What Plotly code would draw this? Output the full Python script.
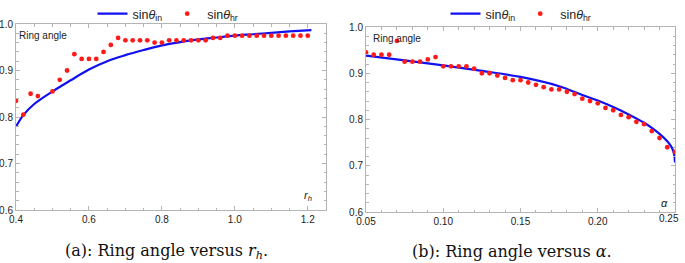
import plotly.graph_objects as go

# ---- Panel (a): ring angle versus r_h ----
rh_curve = [0.40, 0.42, 0.45, 0.50, 0.55, 0.60, 0.65, 0.70, 0.75, 0.80, 0.85,
            0.90, 0.95, 1.00, 1.05, 1.10, 1.15, 1.21]
sin_in_a = [0.779, 0.804, 0.828, 0.855, 0.879, 0.902, 0.920, 0.933, 0.944, 0.954,
            0.961, 0.967, 0.971, 0.975, 0.978, 0.981, 0.984, 0.987]
rh_dots = [0.40, 0.42, 0.44, 0.46, 0.50, 0.52, 0.54, 0.56, 0.58, 0.60, 0.62, 0.64,
           0.66, 0.68, 0.70, 0.72, 0.74, 0.76, 0.78, 0.80, 0.82, 0.84, 0.86, 0.88,
           0.90, 0.92, 0.94, 0.96, 0.98, 1.00, 1.02, 1.04, 1.06, 1.08, 1.10, 1.12,
           1.14, 1.16, 1.18, 1.20]
sin_hr_a = [0.835, 0.805, 0.850, 0.845, 0.855, 0.880, 0.900, 0.935, 0.925, 0.925,
            0.925, 0.940, 0.955, 0.970, 0.965, 0.965, 0.965, 0.965, 0.960, 0.960,
            0.965, 0.965, 0.965, 0.965, 0.965, 0.965, 0.970, 0.970, 0.975, 0.975,
            0.975, 0.975, 0.975, 0.975, 0.975, 0.975, 0.975, 0.975, 0.975, 0.975]
ticks_a = [0.4, 0.6, 0.8, 1.0, 1.2]
ticklabels_a = ["0.4", "0.6", "0.8", "1.0", "1.2"]

# ---- Panel (b): ring angle versus alpha ----
alpha_curve = [0.05, 0.075, 0.10, 0.125, 0.15, 0.175, 0.19, 0.20, 0.21, 0.22, 0.23,
               0.235, 0.24, 0.245, 0.248, 0.2495, 0.25]
sin_in_b = [0.938, 0.928, 0.917, 0.905, 0.892, 0.872, 0.853, 0.841, 0.827, 0.811,
            0.793, 0.782, 0.769, 0.753, 0.739, 0.724, 0.707]
alpha_dots = [0.050, 0.055, 0.060, 0.065, 0.070, 0.075, 0.080, 0.085, 0.090, 0.095,
              0.100, 0.105, 0.110, 0.115, 0.120, 0.125, 0.130, 0.135, 0.140, 0.145,
              0.150, 0.155, 0.160, 0.165, 0.170, 0.175, 0.180, 0.185, 0.190, 0.195,
              0.200, 0.205, 0.210, 0.215, 0.220, 0.225, 0.230, 0.235, 0.240, 0.245,
              0.250]
sin_hr_b = [0.945, 0.940, 0.940, 0.940, 0.970, 0.925, 0.925, 0.925, 0.930, 0.935,
            0.915, 0.915, 0.915, 0.915, 0.910, 0.900, 0.900, 0.895, 0.890, 0.885,
            0.885, 0.880, 0.875, 0.870, 0.865, 0.865, 0.860, 0.855, 0.845, 0.840,
            0.835, 0.825, 0.820, 0.810, 0.805, 0.795, 0.790, 0.775, 0.760, 0.740,
            0.730]
ticks_b = [0.05, 0.10, 0.15, 0.20, 0.25]
ticklabels_b = ["0.05", "0.10", "0.15", "0.20", "0.25"]

ticks_y = [0.6, 0.7, 0.8, 0.9, 1.0]
ticklabels_y = ["0.6", "0.7", "0.8", "0.9", "1.0"]

name_in = "sin<i>θ</i><sub>in</sub>"
name_hr = "sin<i>θ</i><sub>hr</sub>"
captions = ["(a): Ring angle versus <i>r<sub>h</sub></i>.",
            "(b): Ring angle versus <i>α</i>."]

BLUE = "#1010f0"
RED = "#ff1a1a"
FRAME = "#b4b4b4"
TXT = "#222222"
TICKFONT = dict(family="Liberation Sans", size=10, color=TXT)
LEGFONT = dict(family="Liberation Sans", size=12.5, color=TXT)

fig = go.Figure()
fig.add_trace(go.Scatter(x=rh_curve, y=sin_in_a, mode="lines", name=name_in,
                         line=dict(color=BLUE, width=2.2, shape="spline"),
                         xaxis="x", yaxis="y", legend="legend"))
fig.add_trace(go.Scatter(x=rh_dots, y=sin_hr_a, mode="markers", name=name_hr,
                         marker=dict(color=RED, size=4.8),
                         xaxis="x", yaxis="y", legend="legend"))
fig.add_trace(go.Scatter(x=alpha_curve, y=sin_in_b, mode="lines", name=name_in,
                         line=dict(color=BLUE, width=2.2, shape="spline"),
                         xaxis="x2", yaxis="y2", legend="legend2"))
fig.add_trace(go.Scatter(x=alpha_dots, y=sin_hr_b, mode="markers", name=name_hr,
                         marker=dict(color=RED, size=4.8),
                         xaxis="x2", yaxis="y2", legend="legend2"))

W, H = 685, 263
ml, mr, mt, mb = 16, 10, 24, 51
pw = W - ml - mr
ph = H - mt - mb


def dx(px):
    return (px - ml) / pw


def dy(py):
    return (H - mb - py) / ph


common = dict(showline=True, linecolor=FRAME, linewidth=1, mirror="ticks",
              ticks="inside", ticklen=4, tickcolor=FRAME, showgrid=False,
              zeroline=False, automargin=False, tickfont=TICKFONT)

# last tick label of panel (b) is drawn shifted left so it stays inside the page
ticktext_b = ticklabels_b[:-1] + [""]

fig.update_layout(
    width=W, height=H,
    margin=dict(l=ml, r=mr, t=mt, b=mb, autoexpand=False),
    plot_bgcolor="white", paper_bgcolor="white",
    font=dict(family="Liberation Sans", color=TXT),
    xaxis=dict(domain=[dx(16), dx(326)], range=[0.4, 1.25],
               tickvals=ticks_a, ticktext=ticklabels_a, anchor="y",
               minor=dict(ticks="inside", ticklen=2.5, dtick=0.05, tickcolor=FRAME),
               **common),
    yaxis=dict(domain=[dy(210), dy(24)], range=[0.6, 1.0],
               tickvals=ticks_y, ticktext=ticklabels_y, anchor="x",
               minor=dict(ticks="inside", ticklen=2.5, dtick=0.02, tickcolor=FRAME),
               **common),
    xaxis2=dict(domain=[dx(366), dx(675)], range=[0.05, 0.25],
                tickvals=ticks_b, ticktext=ticktext_b, anchor="y2",
                minor=dict(ticks="inside", ticklen=2.5, dtick=0.01, tickcolor=FRAME),
                **common),
    yaxis2=dict(domain=[dy(212), dy(27)], range=[0.6, 1.0],
                tickvals=ticks_y, ticktext=ticklabels_y, anchor="x2",
                minor=dict(ticks="inside", ticklen=2.5, dtick=0.02, tickcolor=FRAME),
                **common),
    legend=dict(orientation="h", x=dx(168), y=dy(14), xanchor="center", yanchor="middle",
                font=LEGFONT, bgcolor="rgba(0,0,0,0)", itemwidth=30, tracegroupgap=0),
    legend2=dict(orientation="h", x=dx(521), y=dy(14), xanchor="center", yanchor="middle",
                 font=LEGFONT, bgcolor="rgba(0,0,0,0)", itemwidth=30, tracegroupgap=0),
    showlegend=True,
)

annots = [
    dict(text="Ring angle", xref="x", yref="y", x=0.403, y=0.976, xanchor="left",
         yanchor="middle", showarrow=False,
         font=dict(family="Liberation Sans", size=10, color=TXT)),
    dict(text="Ring angle", xref="x2", yref="y2", x=0.053, y=0.976, xanchor="left",
         yanchor="middle", showarrow=False,
         font=dict(family="Liberation Sans", size=10, color=TXT)),
    dict(text="<i>r<sub>h</sub></i>", xref="x", yref="y", x=1.2, y=0.63,
         xanchor="center", yanchor="middle", showarrow=False,
         font=dict(family="Liberation Sans", size=11, color=TXT)),
    dict(text="<i>α</i>", xref="x2", yref="y2", x=0.243, y=0.62,
         xanchor="center", yanchor="middle", showarrow=False,
         font=dict(family="Liberation Sans", size=11, color=TXT)),
    dict(text=ticklabels_b[-1], xref="paper", yref="paper", x=dx(681), y=dy(219),
         xanchor="right", yanchor="middle", showarrow=False, font=TICKFONT),
    dict(text=captions[0], xref="paper", yref="paper", x=dx(166), y=dy(251),
         xanchor="center", yanchor="middle", showarrow=False,
         font=dict(family="DejaVu Serif", size=16, color="#111111")),
    dict(text=captions[1], xref="paper", yref="paper", x=dx(512), y=dy(251),
         xanchor="center", yanchor="middle", showarrow=False,
         font=dict(family="DejaVu Serif", size=16, color="#111111")),
]
fig.update_layout(annotations=annots)

fig.write_html("out.html",
               config={"displayModeBar": False},
               post_script="document.body.style.margin='0px';"
                           "document.body.style.overflow='hidden';")
